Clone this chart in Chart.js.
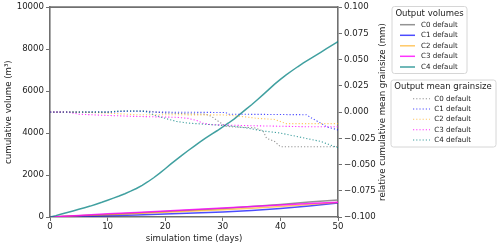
<!DOCTYPE html>
<html><head><meta charset="utf-8">
<script src="https://cdn.jsdelivr.net/npm/chart.js@4"></script>
<style>html,body{margin:0;padding:0;background:#fff}</style>
</head><body>
<canvas id="c" width="500" height="248"></canvas>
<script>
// ---- data ----
const seriesLabels = ['C0 default','C1 default','C2 default','C3 default','C4 default'];
const legendTitleVol = 'Output volumes';
const legendTitleGs = 'Output mean grainsize';
const xTitle = 'simulation time (days)';
const yTitle = 'cumulative volume (m\u00b3)';
const y1Title = 'relative cumulative mean grainsize (mm)';

// cumulative volumes (m3)
const dailyDays = [0,1,2,3,4,5,6,7,8,9,10,11,12,13,14,15,16,17,18,19,20,21,22,23,24,25,26,27,28,29,30,31,32,33,34,35,36,37,38,39,40,41,42,43,44,45,46,47,48,49,50];
const volC4 = [0,65,140,215,290,365,440,520,610,700,800,900,1000,1110,1230,1360,1510,1680,1870,2080,2300,2530,2750,2960,3170,3370,3570,3760,3940,4110,4290,4480,4680,4900,5130,5350,5590,5830,6080,6330,6560,6770,6970,7160,7340,7510,7680,7850,8020,8190,8360];
const fiveDays = [0,5,10,15,20,25,30,35,40,45,50];
const volC0 = [0,60,120,190,260,330,410,500,600,710,810];
const volC1 = [0,30,65,100,140,185,240,310,400,520,670];
const volC2 = [0,55,110,170,230,290,350,420,500,590,690];
const volC3 = [0,75,150,220,290,360,430,500,570,640,700];

// relative cumulative mean grainsize (mm)
const gsC0Days = [0,10,12,17,20,27,28,29,30.5,31.5,35.5,37,37.6,39,40,50];
const gsC0 = [0,0,0.001,0.001,-0.001,-0.002,-0.004,-0.008,-0.0135,-0.014,-0.015,-0.018,-0.025,-0.028,-0.033,-0.033];
const gsC1Days = [0,11,13,16,18,30.5,31,44.5,45.5,47,48,50];
const gsC1 = [0,0,0.0008,0.0008,0,-0.0004,-0.002,-0.0025,-0.006,-0.0105,-0.014,-0.017];
const gsC2Days = [0,5,10,15,30,31,33,36,39,40,41,50];
const gsC2 = [0,0,-0.001,-0.0025,-0.0027,-0.003,-0.004,-0.006,-0.007,-0.009,-0.011,-0.011];
const gsC3Days = [0,3,5,9,14,22,24,25.5,26.5,28,35,45,50];
const gsC3 = [0,0,-0.002,-0.003,-0.004,-0.005,-0.006,-0.008,-0.0105,-0.012,-0.013,-0.014,-0.014];
const gsC4Days = [0,10,12,16,17,18,20,22,24,28,31,34,37,40,43.5,47,50];
const gsC4 = [0,0,0.001,0.001,0,-0.0026,-0.006,-0.009,-0.0105,-0.012,-0.013,-0.015,-0.018,-0.020,-0.024,-0.028,-0.034];

// ---- styles ----
const colors = ['rgba(128,128,128,0.85)','rgba(0,0,255,0.7)','rgba(255,165,0,0.6)','rgba(255,0,255,0.8)','rgba(0,128,128,0.75)'];
const FONT = '"DejaVu Sans", sans-serif';
const TXT = '#222';
const SPINE = '#707070';

function pts(xs, ys){ return xs.map((x,i)=>({x:x, y:ys[i]})); }

const volData = [pts(fiveDays,volC0), pts(fiveDays,volC1), pts(fiveDays,volC2), pts(fiveDays,volC3), pts(dailyDays,volC4)];
const gsData = [pts(gsC0Days,gsC0), pts(gsC1Days,gsC1), pts(gsC2Days,gsC2), pts(gsC3Days,gsC3), pts(gsC4Days,gsC4)];

const datasets = [];
volData.forEach((d,i)=>datasets.push({
  label: seriesLabels[i], data: d, yAxisID:'y', borderColor: colors[i], backgroundColor: colors[i],
  borderWidth: 1.5, pointRadius: 0, fill:false, order: 20-i, kind:'vol'
}));
gsData.forEach((d,i)=>datasets.push({
  label: seriesLabels[i], data: d, yAxisID:'y1', borderColor: colors[i], backgroundColor: colors[i],
  borderWidth: 1.1, borderDash:[1.2,2], pointRadius: 0, fill:false, order: 10-i, kind:'gs'
}));

function drawLegend(ctx, box, title, titleX, titleY, hx0, hx1, tx, ys, dsList){
  ctx.save();
  ctx.beginPath();
  const r = 2.5, x=box[0], y=box[1], w=box[2]-box[0], h=box[3]-box[1];
  ctx.moveTo(x+r,y); ctx.lineTo(x+w-r,y); ctx.arcTo(x+w,y,x+w,y+r,r);
  ctx.lineTo(x+w,y+h-r); ctx.arcTo(x+w,y+h,x+w-r,y+h,r);
  ctx.lineTo(x+r,y+h); ctx.arcTo(x,y+h,x,y+h-r,r);
  ctx.lineTo(x,y+r); ctx.arcTo(x,y,x+r,y,r); ctx.closePath();
  ctx.fillStyle='rgba(255,255,255,0.9)'; ctx.fill();
  ctx.strokeStyle='#d6d6d6'; ctx.lineWidth=1; ctx.stroke();
  ctx.fillStyle=TXT; ctx.textBaseline='middle';
  ctx.font='8.5px '+FONT; ctx.textAlign='center';
  ctx.fillText(title, titleX, titleY);
  ctx.font='7.1px '+FONT; ctx.textAlign='left';
  dsList.forEach((ds,i)=>{
    ctx.save();
    ctx.strokeStyle=ds.borderColor; ctx.lineWidth=ds.borderWidth;
    ctx.setLineDash(ds.borderDash||[]);
    ctx.beginPath(); ctx.moveTo(hx0, ys[i]); ctx.lineTo(hx1, ys[i]); ctx.stroke();
    ctx.restore();
    ctx.fillStyle=TXT;
    ctx.fillText(ds.label, tx, ys[i]);
  });
  ctx.restore();
}

const deco = {
  id:'deco',
  afterDraw(chart){
    const ctx = chart.ctx, a = chart.chartArea;
    ctx.save();
    ctx.strokeStyle=SPINE; ctx.lineWidth=1.6;
    ctx.beginPath(); ctx.moveTo(a.left,a.top); ctx.lineTo(a.right,a.top); ctx.stroke();
    ctx.translate(383, (a.top+a.bottom)/2); ctx.rotate(-Math.PI/2);
    ctx.font='8.6px '+FONT; ctx.fillStyle=TXT; ctx.textAlign='center'; ctx.textBaseline='middle';
    ctx.fillText(y1Title, 0, 0);
    ctx.restore();
    const ds = chart.data.datasets;
    drawLegend(ctx, [392,6.5,467,73.5], legendTitleVol, 429.5, 14, 400, 415, 421,
      [24.7,35.3,45.8,56.3,67], ds.filter(d=>d.kind==='vol'));
    drawLegend(ctx, [391,80,496,147], legendTitleGs, 443, 87, 413, 430, 434.3,
      [98.7,109,119.3,129.7,140], ds.filter(d=>d.kind==='gs'));
  }
};

const tickFont = {family: FONT, size: 8.6};
const gridOpt = {display:true, drawOnChartArea:false, drawTicks:true, tickLength:4, color:SPINE, tickWidth:1};
const borderOpt = {display:true, color:SPINE, width:1.6};

new Chart(document.getElementById('c'), {
  type:'line',
  data:{datasets},
  options:{
    responsive:false, animation:false,
    layout:{padding:{top:7, right:108, bottom:0, left:0}},
    plugins:{legend:{display:false}, tooltip:{enabled:false}},
    scales:{
      x:{type:'linear', position:'bottom', min:0, max:50,
        ticks:{stepSize:10, font:tickFont, color:TXT, padding:1, maxRotation:0},
        grid:gridOpt, border:borderOpt,
        title:{display:true, text:xTitle, font:{family:FONT,size:8.6}, color:TXT, padding:{top:2,bottom:4}},
        afterFit(s){ s.height = 31; }
      },
      y:{type:'linear', position:'left', min:0, max:10000,
        ticks:{stepSize:2000, font:tickFont, color:TXT, padding:2, callback:v=>String(v)},
        grid:gridOpt, border:borderOpt,
        title:{display:true, text:yTitle, font:{family:FONT,size:8.6}, color:TXT, padding:{top:4,bottom:4}},
        afterFit(s){ s.width = 50; }
      },
      y1:{type:'linear', position:'right', min:-0.1, max:0.1,
        ticks:{stepSize:0.025, font:tickFont, color:TXT, padding:2,
          callback:v=> Math.abs(v)<1e-9 ? '0.000' : (v<0?'\u2212':'') + Math.abs(v).toFixed(3)},
        grid:gridOpt, border:borderOpt,
        title:{display:false},
        afterFit(s){ s.width = 54; }
      }
    }
  },
  plugins:[deco]
});
</script>
</body></html>
